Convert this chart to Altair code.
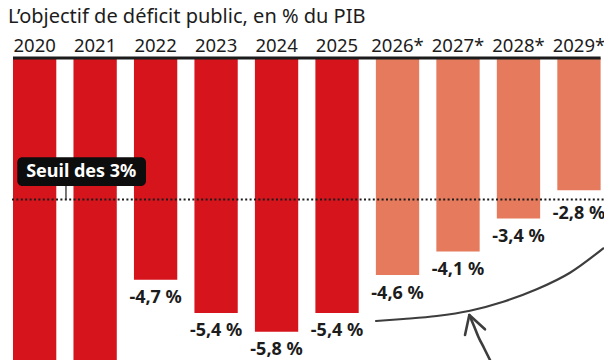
import altair as alt
import pandas as pd

# ---- data ----
years = ["2020", "2021", "2022", "2023", "2024", "2025", "2026*", "2027*", "2028*", "2029*"]
deficits = [-9.0, -6.6, -4.7, -5.4, -5.8, -5.4, -4.6, -4.1, -3.4, -2.8]
labels = ["-9,0 %", "-6,6 %", "-4,7 %", "-5,4 %", "-5,8 %", "-5,4 %", "-4,6 %", "-4,1 %", "-3,4 %", "-2,8 %"]
kinds = ["réalisé"] * 6 + ["prévision"] * 4
threshold = -3.0
title_text = "L’objectif de déficit public, en % du PIB"
threshold_text = "Seuil des 3%"

# annotation curve (data units: bar index, % of GDP)
curve_x = [5.644, 6.095, 6.648, 7.198, 7.749, 8.301, 8.852, 9.402]
curve_y = [-5.572, -5.530, -5.466, -5.354, -5.163, -4.900, -4.549, -4.032]
# arrow shaft and head
shaft_x = [7.187, 7.264, 7.336, 7.430, 7.529]
shaft_y = [-5.445, -5.678, -5.905, -6.144, -6.398]
head_x = [7.116, 7.187, 7.446]
head_y = [-5.869, -5.445, -5.748]
# "Seuil" call-out box
box_x = [-0.287, 1.841]
box_y = [-2.104, -2.712]
box_text_pos = [0.771, -2.409]
box_tick_x = 0.518

RED = "#D5141C"
ORANGE = "#E67A5C"
INK = "#1c1c1c"
FONT = "Noto Sans"

HALF = 0.358
W, H = 596, 352
Y_MIN, Y_MAX = -6.3983, 1.0593
xs = alt.Scale(domain=[-0.4406, 9.414], nice=False, zero=False)
ys = alt.Scale(domain=[Y_MIN, Y_MAX], nice=False, zero=False)

bars_df = pd.DataFrame({
    "idx": list(range(len(years))),
    "year": years,
    "value": deficits,
    "label": labels,
    "kind": kinds,
})

base = alt.Chart(bars_df).transform_calculate(
    x1=f"datum.idx - {HALF}", x2=f"datum.idx + {HALF}"
)

bars = base.mark_rect().encode(
    x=alt.X("x1:Q", scale=xs, axis=None),
    x2="x2:Q",
    y=alt.Y("value:Q", scale=ys, axis=None),
    y2=alt.datum(0),
    color=alt.Color("kind:N", scale=alt.Scale(domain=["réalisé", "prévision"], range=[RED, ORANGE]), legend=None),
)

top_rule = alt.Chart(pd.DataFrame({"a": [-HALF], "b": [len(years) - 1 + HALF], "y": [0.0]})).mark_rule(
    color=INK, strokeWidth=3
).encode(x=alt.X("a:Q", scale=xs, axis=None), x2="b:Q", y=alt.Y("y:Q", scale=ys, axis=None))

year_labels = alt.Chart(bars_df).mark_text(
    font=FONT, fontSize=18.5, color=INK, baseline="alphabetic", align="center"
).encode(x=alt.X("idx:Q", scale=xs, axis=None), y=alt.value(43.5), text="year:N")

# bars running past the bottom of the frame carry no visible label
lbl_df_filter = f"datum.value > {Y_MIN + 0.2}"

val_main = alt.Chart(bars_df).transform_filter(lbl_df_filter).transform_filter(f"datum.value <= {threshold}").mark_text(
    font=FONT, fontSize=18, fontWeight="bold", color=INK, baseline="alphabetic", align="center", dy=23.5
).encode(x=alt.X("idx:Q", scale=xs, axis=None), y=alt.Y("value:Q", scale=ys, axis=None), text="label:N")

val_above = alt.Chart(bars_df).transform_filter(f"datum.value > {threshold}").mark_text(
    font=FONT, fontSize=18, fontWeight="bold", color=INK, baseline="alphabetic", align="center", dy=29
).encode(x=alt.X("idx:Q", scale=xs, axis=None), y=alt.Y("value:Q", scale=ys, axis=None), text="label:N")

dotted = alt.Chart(pd.DataFrame({"a": [-0.3745], "b": [9.414], "y": [threshold]})).mark_rule(
    color=INK, strokeWidth=2, strokeDash=[2, 2.4]
).encode(x=alt.X("a:Q", scale=xs, axis=None), x2="b:Q", y=alt.Y("y:Q", scale=ys, axis=None))

tick = alt.Chart(pd.DataFrame({"x": [box_tick_x], "y1": [box_y[1]], "y2": [threshold]})).mark_rule(
    color=INK, strokeWidth=1.2
).encode(x=alt.X("x:Q", scale=xs, axis=None), y=alt.Y("y1:Q", scale=ys, axis=None), y2="y2:Q")

box = alt.Chart(pd.DataFrame({"x1": [box_x[0]], "x2": [box_x[1]], "y1": [box_y[0]], "y2": [box_y[1]]})).mark_rect(
    color="#0d0d0d", cornerRadius=5
).encode(x=alt.X("x1:Q", scale=xs, axis=None), x2="x2:Q", y=alt.Y("y1:Q", scale=ys, axis=None), y2="y2:Q")

box_label = alt.Chart(pd.DataFrame({"x": [box_text_pos[0]], "y": [box_text_pos[1]], "t": [threshold_text]})).mark_text(
    font=FONT, fontSize=18, fontWeight="bold", color="white", baseline="middle", align="center"
).encode(x=alt.X("x:Q", scale=xs, axis=None), y=alt.Y("y:Q", scale=ys, axis=None), text="t:N")

curve = alt.Chart(pd.DataFrame({"x": curve_x, "y": curve_y, "o": list(range(len(curve_x)))})).mark_line(
    color="#3d3d3d", strokeWidth=2.2, interpolate="monotone", strokeCap="round"
).encode(x=alt.X("x:Q", scale=xs, axis=None), y=alt.Y("y:Q", scale=ys, axis=None), order="o:Q")

shaft = alt.Chart(pd.DataFrame({"x": shaft_x, "y": shaft_y, "o": list(range(len(shaft_x)))})).mark_line(
    color="#3d3d3d", strokeWidth=2.6, interpolate="monotone", strokeCap="round"
).encode(x=alt.X("x:Q", scale=xs, axis=None), y=alt.Y("y:Q", scale=ys, axis=None), order="o:Q")

head = alt.Chart(pd.DataFrame({"x": head_x, "y": head_y, "o": list(range(len(head_x)))})).mark_line(
    color="#3d3d3d", strokeWidth=2.6, strokeCap="round", strokeJoin="round"
).encode(x=alt.X("x:Q", scale=xs, axis=None), y=alt.Y("y:Q", scale=ys, axis=None), order="o:Q")

title = alt.Chart(pd.DataFrame({"t": [title_text]})).mark_text(
    font=FONT, fontSize=20, color=INK, baseline="top", align="left", dy=-1
).encode(x=alt.value(0), y=alt.value(0), text="t:N")

chart = alt.layer(
    bars, top_rule, year_labels, val_main, val_above, dotted, tick, box, box_label, curve, shaft, head, title
).properties(
    width=W, height=H, padding=0, autosize=alt.AutoSizeParams(type="none"), background="white"
).configure_view(stroke=None)

chart.save("out.html", embed_options={"renderer": "svg", "actions": False})
